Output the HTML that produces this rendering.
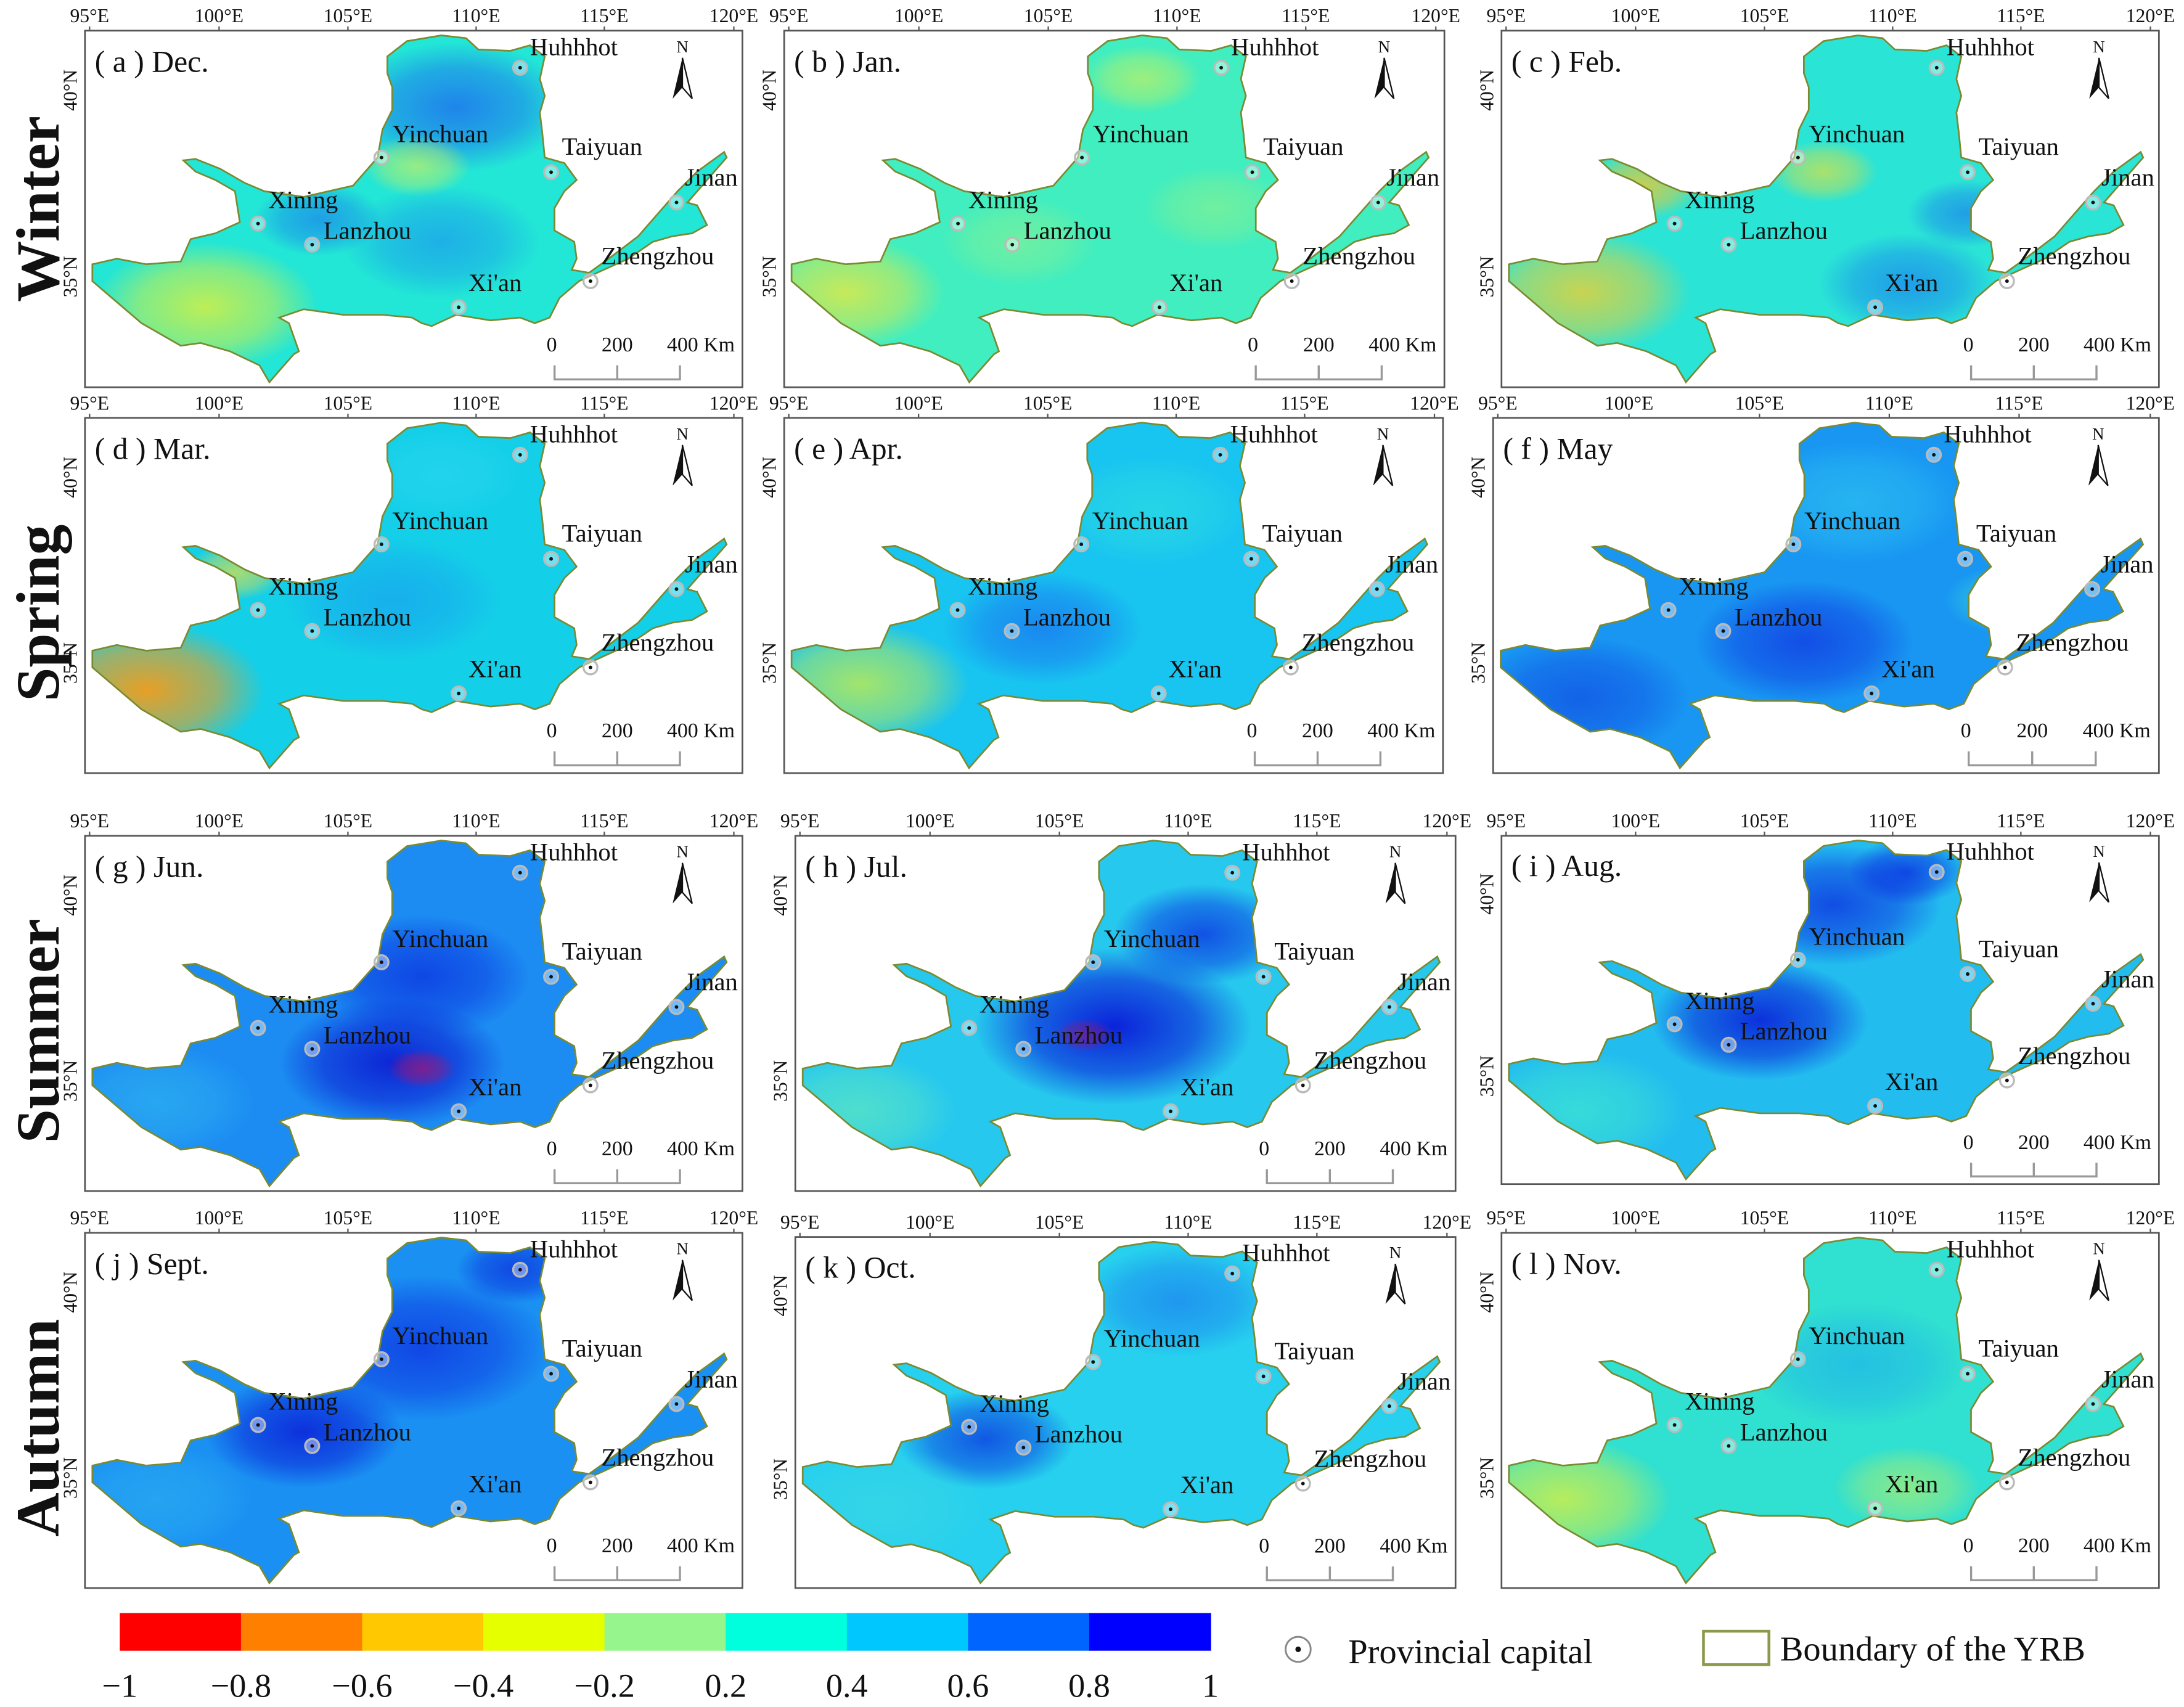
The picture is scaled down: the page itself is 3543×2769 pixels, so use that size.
<!DOCTYPE html>
<html><head><meta charset="utf-8"><style>
html,body{margin:0;padding:0;background:#fff;}
svg{display:block;}
text{font-family:"Liberation Serif",serif;fill:#111;}
</style></head><body>
<svg id="fig" xmlns="http://www.w3.org/2000/svg" width="3543" height="2769" viewBox="0 0 1568 1225.4" preserveAspectRatio="none">
<defs id="defs"></defs>
<g id="panels"></g>
<g id="extras"></g>
</svg>
<script>
// colorbar data
const cbTicks = ["\u22121","\u22120.8","\u22120.6","\u22120.4","\u22120.2","0.2","0.4","0.6","0.8","1"];
const cbColors = ["#ff0000","#ff7f00","#ffc800","#e6ff00","#96f58c","#00ffdc","#00c8ff","#0064ff","#0000ff"];
const panelTitles = ["( a ) Dec.","( b ) Jan.","( c ) Feb.","( d ) Mar.","( e ) Apr.","( f ) May","( g ) Jun.","( h ) Jul.","( i ) Aug.","( j ) Sept.","( k ) Oct.","( l ) Nov."];
const seasons = ["Winter","Spring","Summer","Autumn"];
const lonTicks = ["95°E","100°E","105°E","110°E","115°E","120°E"];
const latTicks = ["40°N","35°N"];
const cityNames = ["Huhhhot","Yinchuan","Taiyuan","Jinan","Xining","Lanzhou","Zhengzhou","Xi'an"];

const NS="http://www.w3.org/2000/svg";
function mk(tag,attrs,parent){const e=document.createElementNS(NS,tag);for(const k in attrs)e.setAttribute(k,attrs[k]);if(parent)parent.appendChild(e);return e;}

const frames=[[61,22,472,256],[563,22,474,256],[1078,22,472,256],
[61,300,472,255],[563,300,473,255],[1072,300,478,255],
[61,600,472,255],[571,600,474,255],[1078,600,472,250],
[61,885,472,255],[571,888,474,252],[1078,885,472,255]];

const outline=[[790,240],[830,185],[900,165],[950,175],[975,215],[1040,220],[1080,200],[1110,240],[1100,320],[1110,380],[1100,440],[1105,510],[1110,600],[1150,620],[1175,680],[1150,720],[1130,780],[1130,860],[1170,900],[1175,960],[1165,1000],[1200,1010],[1240,960],[1300,880],[1350,780],[1380,720],[1420,650],[1475,580],[1480,600],[1400,760],[1420,770],[1440,840],[1410,870],[1370,880],[1330,900],[1280,960],[1230,1000],[1180,1040],[1140,1100],[1120,1170],[1090,1190],[1060,1170],[1000,1180],[930,1160],[880,1200],[860,1190],[840,1170],[780,1160],[700,1160],[620,1140],[570,1170],[590,1190],[610,1290],[600,1300],[570,1360],[550,1400],[530,1340],[470,1290],[410,1260],[370,1270],[340,1240],[290,1190],[230,1100],[190,1040],[190,980],[240,960],[300,980],[370,970],[390,890],[440,870],[490,830],[480,720],[440,680],[400,650],[375,610],[400,605],[450,640],[500,690],[540,720],[620,740],[720,700],[770,600],[780,500],[800,430],[800,350],[790,300]];
const nu=p=>[(p[0]-175)/1337,(p[1]-148)/1270];
const cityPos=[[1060,280,1080,235],[778,600,800,545],[1123,652,1145,590],[1378,760,1395,700],[527,835,548,780],[637,910,660,890],[1203,1040,1225,980],[935,1133,955,1075]];

const looks=[
 ["#22e6d6",[[930,420,230,"#1e6cf0",.8],[900,900,200,"#1a8cf0",.6],[420,1130,230,"#d8f040",.85],[850,630,110,"#c8f060",.7],[650,820,130,"#1a70f0",.6]]],
 ["#40eec0",[[300,1080,200,"#e8e840",.8],[900,320,120,"#d8f050",.6],[650,900,160,"#8cf090",.6],[1050,780,150,"#a0f080",.5]]],
 ["#2ae4d6",[[340,1080,220,"#f0d030",.8],[460,700,120,"#f0c830",.8],[830,650,110,"#e0e040",.7],[1000,1050,180,"#1a80f0",.7],[1120,800,120,"#1a70f0",.6]]],
 ["#14cfe8",[[300,1120,240,"#ff9a10",.9],[480,700,100,"#e8e040",.7],[800,800,220,"#1a90f0",.5],[900,350,160,"#30d8f0",.5]]],
 ["#18c4f0",[[330,1100,220,"#d0f040",.75],[700,900,200,"#1a60f0",.6],[920,480,200,"#30e0e0",.6]]],
 ["#1896f2",[[350,1150,220,"#1040e0",.6],[800,950,220,"#1030e0",.7],[900,450,220,"#30c8f0",.6],[1200,800,120,"#40e8d0",.5]]],
 ["#1c8cf2",[[800,960,230,"#0a14d0",.85],[860,650,220,"#0a30e0",.75],[860,980,70,"#c01060",.6],[320,1100,200,"#30b8f0",.6]]],
 ["#26c8ee",[[820,830,280,"#0810d8",.9],[1000,500,180,"#0820e0",.7],[300,1130,200,"#60e8c0",.7],[760,860,60,"#b01060",.5]]],
 ["#22bcef",[[700,820,220,"#0818d8",.85],[850,400,220,"#0c28e0",.75],[1000,280,120,"#0820e0",.7],[330,1150,220,"#40e8d0",.7]]],
 ["#1a90f2",[[620,860,200,"#0a20d8",.85],[860,560,260,"#0c28e0",.7],[1050,280,120,"#0818d8",.6],[320,1100,200,"#30b8f0",.5]]],
 ["#26d0ee",[[560,880,180,"#0a30e0",.75],[950,380,200,"#1a70f0",.6],[350,1130,220,"#40d8e0",.5]]],
 ["#30e0d0",[[300,1100,220,"#d8f040",.8],[900,620,220,"#1aa8f0",.55],[1000,1060,150,"#c0f060",.6]]]
];

const root=document.getElementById('panels');
const defs=document.getElementById('defs');

frames.forEach((f,i)=>{
  const [fx,fy,fw,fh]=f;
  const X=u=>fx+u*fw, Y=v=>fy+v*fh;
  const P=p=>{const n=nu(p);return [X(n[0]),Y(n[1])];};
  const g=mk('g',{},root);
  
  
  const fr=mk('rect',{x:fx,y:fy,width:fw,height:fh,fill:'#fff',stroke:'#555','stroke-width':1.2},g);
  
  
  lonTicks.forEach((t,k)=>{
    const u=[0.007,0.204,0.40,0.595,0.79,0.987][k];
    const tx=mk('text',{x:X(u),y:fy-6,'font-size':14,'text-anchor':'middle'},g);
    tx.textContent=t;
    
    
    mk('line',{x1:X(u),x2:X(u),y1:fy,y2:fy-3,stroke:'#555','stroke-width':1},g);
  });
  latTicks.forEach((t,k)=>{
    const v=[0.167,0.69][k];
    const tx=mk('text',{x:0,y:0,'font-size':14,'text-anchor':'middle',transform:`translate(${fx-6},${Y(v)}) rotate(-90)`},g);
    tx.textContent=t;
    
    
  });
  const pts=outline.map(P).map(p=>p[0].toFixed(1)+','+p[1].toFixed(1)).join(' ');
  const cp=mk('clipPath',{id:'clip'+i},defs);
  mk('polygon',{points:pts},cp);
  const basin=mk('g',{'clip-path':`url(#clip${i})`},g);
  
  
  const [base,blobs]=looks[i];
  mk('polygon',{points:pts,fill:base},basin);
  blobs.forEach((b,k)=>{
    const gid='rg'+i+'_'+k;
    const rg=mk('radialGradient',{id:gid},defs);
    mk('stop',{offset:'0','stop-color':b[3],'stop-opacity':b[4]},rg);
    mk('stop',{offset:'0.6','stop-color':b[3],'stop-opacity':b[4]*0.6},rg);
    mk('stop',{offset:'1','stop-color':b[3],'stop-opacity':0},rg);
    const c=P([b[0],b[1]]);
    mk('ellipse',{cx:c[0],cy:c[1],rx:b[2]/1337*fw,ry:b[2]/1270*fh,fill:`url(#${gid})`},basin);
  });
  const bd=mk('polygon',{points:pts,fill:'none',stroke:'#7a8a30','stroke-width':1.2},g);
  
  
  const tp=P([195,295]);
  const tt=mk('text',{x:tp[0],y:tp[1],'font-size':22},g);
  tt.textContent=panelTitles[i];
  
  
  cityPos.forEach((c,k)=>{
    const cc=P([c[0],c[1]]),lp=P([c[2],c[3]]);
    const cg=mk('g',{},g);
    
    
    mk('circle',{cx:cc[0],cy:cc[1],r:5,fill:'rgba(255,255,255,0.4)',stroke:'#bbb','stroke-width':1.5},cg);
    mk('circle',{cx:cc[0],cy:cc[1],r:1.3,fill:'#111'},cg);
    const lt=mk('text',{x:lp[0],y:lp[1],'font-size':18},g);
    lt.textContent=cityNames[k];
    
    
  });
  const na=P([1390,225]), nb=P([1390,390]);
  const ng=mk('g',{},g);
  
  
  const nt=mk('text',{x:na[0],y:na[1],'font-size':12,'text-anchor':'middle','font-family':'Liberation Sans'},ng);
  nt.textContent='N';
  const top=na[1]+4,bot=nb[1];
  mk('path',{d:`M${na[0]},${top} L${na[0]-7},${bot} L${na[0]},${bot-8} Z`,fill:'#111'},ng);
  mk('path',{d:`M${na[0]},${top} L${na[0]+7},${bot} L${na[0]},${bot-8} Z`,fill:'#fff',stroke:'#111','stroke-width':1},ng);
  const s0=P([1130,1340]),s2=P([1385,1390]);
  const sg=mk('g',{},g);
  
  
  const sm=(s0[0]+s2[0])/2;
  mk('path',{d:`M${s0[0]},${s0[1]} V${s2[1]} H${s2[0]} V${s0[1]} M${sm},${s0[1]} V${s2[1]}`,fill:'none',stroke:'#999','stroke-width':1.5},sg);
  const ly=P([0,1290])[1];
  [['0',s0[0]-2],['200',sm],['400 Km',s2[0]+15]].forEach(a=>{
    const t=mk('text',{x:a[1],y:ly,'font-size':15,'text-anchor':'middle'},sg);t.textContent=a[0];
  });
});

const ex=document.getElementById('extras');
[150,440,740,1025].forEach((cy,k)=>{
  const t=mk('text',{x:0,y:0,'font-size':44,'font-weight':'bold','text-anchor':'middle',transform:`translate(42,${cy}) rotate(-90)`},ex);
  t.textContent=seasons[k];
  
  
});
const cbx0=86,cbx1=869,cby=1158,cbh=27;
const cbw=(cbx1-cbx0)/cbColors.length;
const cb=mk('g',{},ex);


cbColors.forEach((c,k)=>{
  const r=mk('rect',{x:cbx0+k*cbw,y:cby,width:cbw+0.5,height:cbh,fill:c},cb);
  
  
});
cbTicks.forEach((t,k)=>{
  const tx=mk('text',{x:cbx0+k*cbw,y:1218,'font-size':24,'text-anchor':'middle'},cb);
  tx.textContent=t;
  
  
});
const lg=mk('g',{},ex);


const l1=mk('g',{},lg);


mk('circle',{cx:932,cy:1184,r:9,fill:'#fff',stroke:'#888','stroke-width':1.3},l1);
mk('circle',{cx:932,cy:1184,r:2,fill:'#111'},l1);
const lt1=mk('text',{x:968,y:1194,'font-size':25},l1);lt1.textContent='Provincial capital';
const l2=mk('g',{},lg);


mk('rect',{x:1223,y:1171,width:47,height:24,fill:'#fff',stroke:'#8a9a4a','stroke-width':2},l2);
const lt2=mk('text',{x:1278,y:1192,'font-size':25},l2);lt2.textContent='Boundary of the YRB';
</script>
</body></html>
